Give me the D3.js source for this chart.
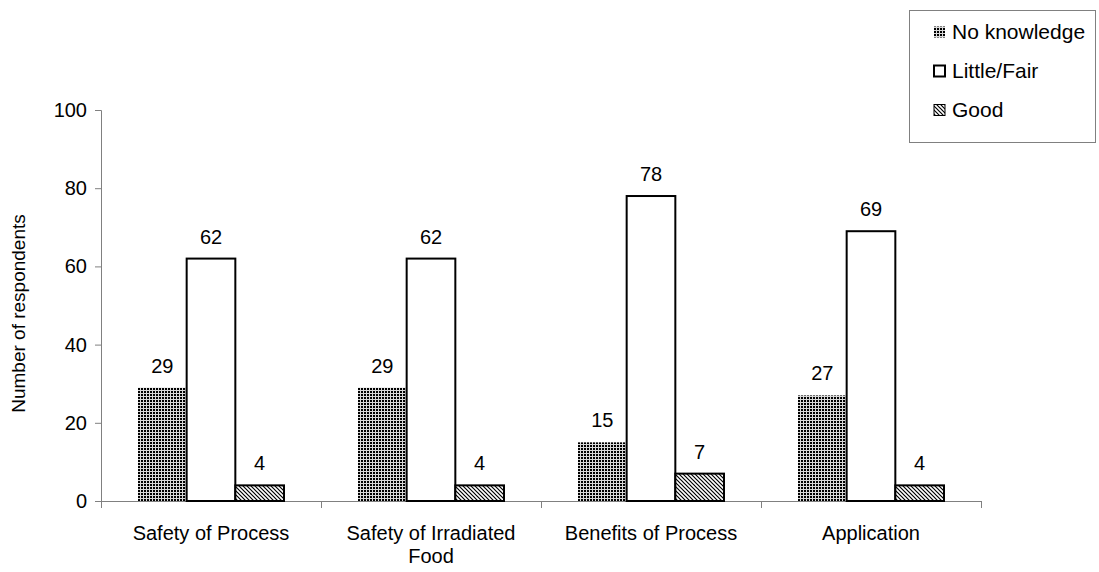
<!DOCTYPE html>
<html>
<head>
<meta charset="utf-8">
<script src="https://cdn.jsdelivr.net/npm/d3@7"></script>
<style>
  html, body { margin: 0; padding: 0; background: #fff; }
  svg { display: block; font-family: Arial, "Liberation Sans", sans-serif; }
</style>
</head>
<body>
<svg id="chart" width="1099" height="572"></svg>
<script>
// Knowledge of food irradiation, by topic
const categories = ["Safety of Process", "Safety of Irradiated Food", "Benefits of Process", "Application"];
const seriesNames = ["No knowledge", "Little/Fair", "Good"];
const noKnowledge = [29, 29, 15, 27];
const littleFair = [62, 62, 78, 69];
const good = [4, 4, 7, 4];
const yTicks = [0, 20, 40, 60, 80, 100];

const seriesValues = [noKnowledge, littleFair, good];

const svg = d3.select("#chart");
const defs = svg.append("defs");

// dense dark grid
const grid = defs.append("pattern").attr("id", "pat-grid")
  .attr("patternUnits", "userSpaceOnUse").attr("width", 3).attr("height", 3);
grid.append("rect").attr("width", 3).attr("height", 3).attr("fill", "#d8d8d8");
grid.append("rect").attr("x", 1).attr("y", 1).attr("width", 2).attr("height", 2).attr("fill", "#000");

// diagonal hatch
const hatch = defs.append("pattern").attr("id", "pat-hatch")
  .attr("patternUnits", "userSpaceOnUse").attr("width", 4).attr("height", 4);
hatch.append("rect").attr("width", 4).attr("height", 4).attr("fill", "#fff");
hatch.append("path").attr("d", "M-1,-1 L5,5 M-1,3 L1,5 M3,-1 L5,1")
  .attr("stroke", "#000").attr("stroke-width", 1.2);

const fills = ["url(#pat-grid)", "#fff", "url(#pat-hatch)"];
const strokes = ["none", "#000", "#000"];

const plotLeft = 101, plotRight = 981, plotTop = 110, plotBottom = 501;
const fontSize = 20;

const x = d3.scaleBand().domain(categories).range([plotLeft, plotRight]).paddingInner(0).paddingOuter(0);
const groupPad = 37;
const xs = d3.scaleBand().domain(seriesNames.map((d, i) => i))
  .range([groupPad, x.bandwidth() - groupPad]).padding(0);
const y = d3.scaleLinear().domain([0, 100]).range([plotBottom, plotTop]);

// y axis
const yAxis = svg.append("g").attr("transform", `translate(${plotLeft},0)`)
  .call(d3.axisLeft(y).tickValues(yTicks).tickSize(6).tickPadding(8));
yAxis.select(".domain").attr("stroke", "#808080");
yAxis.selectAll(".tick line").attr("stroke", "#808080");
yAxis.selectAll(".tick text").attr("font-size", fontSize).attr("fill", "#000")
  .attr("font-family", "Arial, 'Liberation Sans', sans-serif");

// x axis with ticks at band edges
svg.append("line").attr("x1", plotLeft).attr("x2", plotRight)
  .attr("y1", plotBottom + 0.5).attr("y2", plotBottom + 0.5)
  .attr("stroke", "#808080");
const edges = categories.map(c => x(c)).concat([plotRight]);
svg.selectAll(".xtick").data(edges).enter().append("line")
  .attr("x1", d => d + 0.5).attr("x2", d => d + 0.5)
  .attr("y1", plotBottom).attr("y2", plotBottom + 7).attr("stroke", "#808080");

// bars
const groups = svg.selectAll(".grp").data(categories).enter().append("g")
  .attr("transform", c => `translate(${x(c)},0)`);

seriesValues.forEach((vals, s) => {
  groups.append("rect")
    .attr("x", (c, i) => xs(s))
    .attr("y", (c, i) => y(vals[i]))
    .attr("width", xs.bandwidth())
    .attr("height", (c, i) => y(0) - y(vals[i]))
    .attr("fill", fills[s])
    .attr("stroke", strokes[s])
    .attr("stroke-width", 2);
  groups.append("text")
    .attr("x", (c, i) => xs(s) + xs.bandwidth() / 2)
    .attr("y", (c, i) => y(vals[i]) - 15)
    .attr("text-anchor", "middle")
    .attr("font-size", fontSize)
    .text((c, i) => vals[i]);
});

// category labels (wrapped)
const catLines = {
  "Safety of Process": ["Safety of Process"],
  "Safety of Irradiated Food": ["Safety of Irradiated", "Food"],
  "Benefits of Process": ["Benefits of Process"],
  "Application": ["Application"]
};
categories.forEach(c => {
  const t = svg.append("text").attr("text-anchor", "middle").attr("font-size", fontSize)
    .attr("x", x(c) + x.bandwidth() / 2).attr("y", 540);
  catLines[c].forEach((ln, k) => {
    t.append("tspan").attr("x", x(c) + x.bandwidth() / 2).attr("dy", k === 0 ? 0 : 23).text(ln);
  });
});

// y axis title
svg.append("text").attr("transform", `translate(25,${(plotTop + plotBottom) / 2 + 8}) rotate(-90)`)
  .attr("text-anchor", "middle").attr("font-size", 19).text("Number of respondents");

// legend
const lg = svg.append("g");
lg.append("rect").attr("x", 909.5).attr("y", 10.5).attr("width", 186).attr("height", 132)
  .attr("fill", "#fff").attr("stroke", "#808080");
seriesNames.forEach((n, s) => {
  const cy = 32 + s * 39;
  lg.append("rect").attr("x", 934).attr("y", cy - 5.5).attr("width", 11).attr("height", 11)
    .attr("fill", fills[s]).attr("stroke", strokes[s]).attr("stroke-width", s === 1 ? 2 : 1);
  lg.append("text").attr("x", 952).attr("y", cy + 7).attr("font-size", 21).text(n);
});
</script>
</body>
</html>
